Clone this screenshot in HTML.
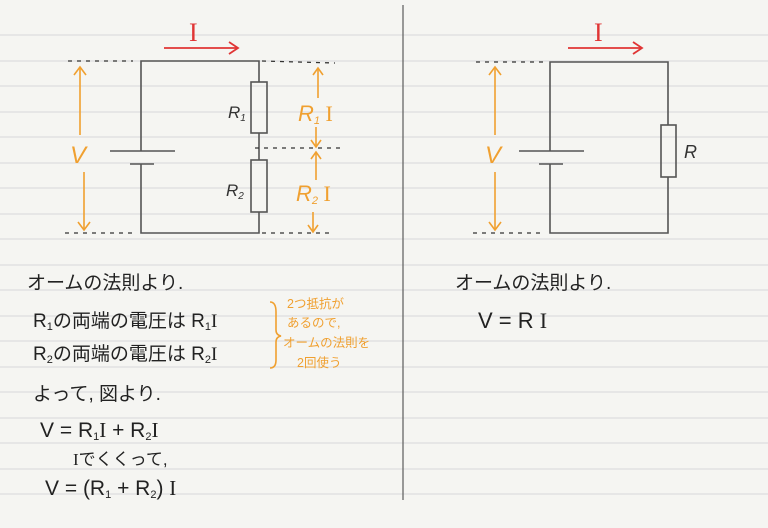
<!DOCTYPE html>
<html><head><meta charset="utf-8"><style>
html,body{margin:0;padding:0;background:#f5f5f2;}
svg{display:block}
text{font-family:"Liberation Sans","Noto Sans CJK JP",sans-serif;}
.s{font-family:"Liberation Serif",serif;}
</style></head><body>
<svg width="768" height="528" viewBox="0 0 768 528" xmlns="http://www.w3.org/2000/svg">
<rect width="768" height="528" fill="#f5f5f2"/>
<g stroke="#dedede" stroke-width="1.2">
<line x1="0" y1="35" x2="768" y2="35"/><line x1="0" y1="61" x2="768" y2="61"/><line x1="0" y1="86" x2="768" y2="86"/><line x1="0" y1="112" x2="768" y2="112"/><line x1="0" y1="137" x2="768" y2="137"/><line x1="0" y1="163" x2="768" y2="163"/><line x1="0" y1="188" x2="768" y2="188"/><line x1="0" y1="214" x2="768" y2="214"/><line x1="0" y1="239" x2="768" y2="239"/><line x1="0" y1="265" x2="768" y2="265"/><line x1="0" y1="290" x2="768" y2="290"/><line x1="0" y1="316" x2="768" y2="316"/><line x1="0" y1="341" x2="768" y2="341"/><line x1="0" y1="367" x2="768" y2="367"/><line x1="0" y1="392" x2="768" y2="392"/><line x1="0" y1="418" x2="768" y2="418"/><line x1="0" y1="443" x2="768" y2="443"/><line x1="0" y1="469" x2="768" y2="469"/><line x1="0" y1="494" x2="768" y2="494"/>
</g>
<line x1="403" y1="5" x2="403" y2="500" stroke="#666" stroke-width="1.3"/>

<!-- left circuit -->
<g stroke="#555" stroke-width="1.6" fill="none">
<polyline points="141,151 141,61 259,61 259,82"/>
<line x1="259" y1="133" x2="259" y2="160"/>
<polyline points="141,164 141,233 259,233 259,212"/>
<line x1="110" y1="151" x2="175" y2="151"/>
<line x1="130" y1="164" x2="154" y2="164"/>
<rect x="251" y="82" width="16" height="51"/>
<rect x="251" y="160" width="16" height="52"/>
</g>
<g stroke="#333" stroke-width="1.3" stroke-dasharray="4,5" fill="none">
<line x1="68" y1="61" x2="133" y2="61"/><line x1="262" y1="61" x2="335" y2="63"/>
<line x1="255" y1="148" x2="340" y2="148"/>
<line x1="65" y1="233" x2="137" y2="233"/><line x1="262" y1="233" x2="332" y2="233"/>
</g>
<text x="228" y="118" font-size="17" font-style="italic" fill="#333">R<tspan font-size="10" dy="3">1</tspan></text>
<text x="226" y="196" font-size="17" font-style="italic" fill="#333">R<tspan font-size="10" dy="3">2</tspan></text>
<g stroke="#f0a030" stroke-width="1.6" fill="none">
<line x1="80" y1="67" x2="80" y2="135"/><polyline points="74,75 80,67 86,75"/>
<line x1="84" y1="172" x2="84" y2="230"/><polyline points="78,222 84,230 90,222"/>
<line x1="318" y1="68" x2="318" y2="98"/><polyline points="313,75 318,68 323,75"/>
<line x1="316" y1="127" x2="316" y2="147"/><polyline points="311,140 316,147 321,140"/>
<line x1="316" y1="152" x2="316" y2="180"/><polyline points="311,159 316,152 321,159"/>
<line x1="313" y1="212" x2="313" y2="232"/><polyline points="308,225 313,232 318,225"/>
</g>
<text x="70" y="163" font-size="24" fill="#f0a030" font-style="italic">V</text>
<text x="298" y="121" font-size="22" fill="#f0a030" font-style="italic">R<tspan font-size="11" dy="3">1</tspan><tspan dy="-3" class="s" font-style="normal"> I</tspan></text>
<text x="296" y="201" font-size="22" fill="#f0a030" font-style="italic">R<tspan font-size="11" dy="3">2</tspan><tspan dy="-3" class="s" font-style="normal"> I</tspan></text>
<text x="189" y="41" font-size="26" fill="#e03535" class="s">I</text>
<g stroke="#e03535" stroke-width="1.8" fill="none">
<line x1="164" y1="48" x2="238" y2="48"/><polyline points="229,42 238,48 229,54"/>
</g>

<!-- right circuit -->
<g stroke="#555" stroke-width="1.6" fill="none">
<polyline points="550,151 550,62 668,62 668,125"/>
<polyline points="550,164 550,233 668,233 668,177"/>
<line x1="519" y1="151" x2="584" y2="151"/>
<line x1="539" y1="164" x2="563" y2="164"/>
<rect x="661" y="125" width="15" height="52"/>
</g>
<g stroke="#333" stroke-width="1.3" stroke-dasharray="4,5" fill="none">
<line x1="476" y1="62" x2="545" y2="62"/><line x1="473" y1="233" x2="545" y2="233"/>
</g>
<text x="684" y="158" font-size="18" font-style="italic" fill="#333">R</text>
<g stroke="#f0a030" stroke-width="1.6" fill="none">
<line x1="495" y1="67" x2="495" y2="135"/><polyline points="489,75 495,67 501,75"/>
<line x1="495" y1="172" x2="495" y2="230"/><polyline points="489,222 495,230 501,222"/>
</g>
<text x="485" y="163" font-size="24" fill="#f0a030" font-style="italic">V</text>
<text x="594" y="41" font-size="26" fill="#e03535" class="s">I</text>
<g stroke="#e03535" stroke-width="1.8" fill="none">
<line x1="568" y1="48" x2="642" y2="48"/><polyline points="633,42 642,48 633,54"/>
</g>

<!-- text -->
<g fill="#222" font-size="19">
<text x="27" y="289">オームの法則より.</text>
<text x="33" y="327">R<tspan font-size="11" dy="3">1</tspan><tspan dy="-3">の両端の電圧は R</tspan><tspan font-size="11" dy="3">1</tspan><tspan dy="-3" class="s">I</tspan></text>
<text x="33" y="360">R<tspan font-size="11" dy="3">2</tspan><tspan dy="-3">の両端の電圧は R</tspan><tspan font-size="11" dy="3">2</tspan><tspan dy="-3" class="s">I</tspan></text>
<text x="33" y="400">よって, 図より.</text>
<text x="40" y="437" font-size="21">V = R<tspan font-size="11" dy="3">1</tspan><tspan dy="-3" class="s">I</tspan><tspan> + R</tspan><tspan font-size="11" dy="3">2</tspan><tspan dy="-3" class="s">I</tspan></text>
<text x="73" y="465" font-size="17"><tspan class="s">I</tspan>でくくって,</text>
<text x="45" y="495" font-size="21">V = (R<tspan font-size="11" dy="3">1</tspan><tspan dy="-3"> + R</tspan><tspan font-size="11" dy="3">2</tspan><tspan dy="-3">) </tspan><tspan class="s">I</tspan></text>
<text x="455" y="289">オームの法則より.</text>
<text x="478" y="328" font-size="22">V = R <tspan class="s">I</tspan></text>
</g>
<path d="M270,302 Q276,302 276,312 L276,330 Q276,335 281,336 Q276,337 276,342 L276,360 Q276,368 270,368" stroke="#f0a030" stroke-width="1.6" fill="none"/>
<g fill="#f0a030" font-size="12.5">
<text x="287" y="308">2つ抵抗が</text>
<text x="287" y="327">あるので,</text>
<text x="283" y="347">オームの法則を</text>
<text x="297" y="367">2回使う</text>
</g>
</svg>
</body></html>
